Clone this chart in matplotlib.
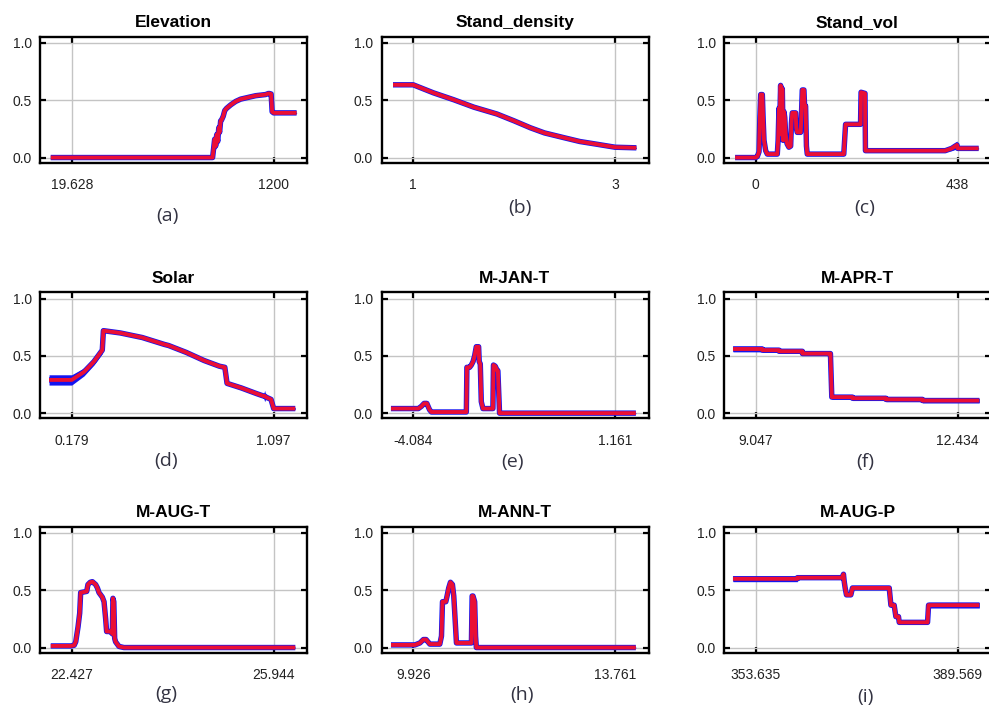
import numpy as np
import matplotlib
matplotlib.use("Agg")
import matplotlib.pyplot as plt

# response curves: x, mean response, sd (blue band)
titles = ["Elevation", "Stand_density", "Stand_vol", "Solar", "M-JAN-T",
          "M-APR-T", "M-AUG-T", "M-ANN-T", "M-AUG-P"]
labels = ["(a)", "(b)", "(c)", "(d)", "(e)", "(f)", "(g)", "(h)", "(i)"]
tick_vals = [(19.628, 1200), (1, 3), (0, 438), (0.179, 1.097), (-4.084, 1.161),
             (9.047, 12.434), (22.427, 25.944), (9.926, 13.761), (353.635, 389.569)]
tick_text = [("19.628", "1200"), ("1", "3"), ("0", "438"), ("0.179", "1.097"),
             ("-4.084", "1.161"), ("9.047", "12.434"), ("22.427", "25.944"),
             ("9.926", "13.761"), ("353.635", "389.569")]

elev_x = [-103, 843, 849, 855, 861, 867, 873, 879, 884, 890, 896, 905, 914, 925, 949,
          978, 1007, 1036, 1065, 1095, 1124, 1153, 1171, 1185, 1191, 1200, 1334]
elev_y = [0, 0, 0.08, 0.16, 0.10, 0.20, 0.14, 0.26, 0.22, 0.32, 0.33, 0.36, 0.41, 0.43,
          0.46, 0.49, 0.51, 0.52, 0.53, 0.54, 0.545, 0.55, 0.56, 0.555, 0.40, 0.39, 0.39]
elev_sd = [0.005, 0.005, 0.03, 0.04, 0.03, 0.03, 0.03, 0.02, 0.02, 0.01, 0.01, 0.01, 0.01,
           0.01, 0.005, 0.005, 0.005, 0.005, 0.005, 0.005, 0.005, 0.005, 0.005, 0.005,
           0.005, 0.005, 0.005]

dens_x = [0.80, 1.0, 1.1, 1.2, 1.4, 1.6, 1.83, 2.0, 2.16, 2.3, 2.49, 2.65, 2.82, 3.0, 3.21]
dens_y = [0.635, 0.635, 0.60, 0.565, 0.505, 0.44, 0.38, 0.32, 0.26, 0.215, 0.174, 0.14,
          0.116, 0.09, 0.085]
dens_sd = [0.005] * 15

vol_x = [-44.7, 0, 3.6, 7.2, 9, 10.8, 14.4, 16, 18, 21.6, 25.2, 46.8, 48.6, 50.4, 52, 54,
         56, 57.7, 59.5, 61.3, 63, 65, 68, 72, 75.8, 77.5, 79.3, 86.6, 88, 90, 97.4, 99,
         101, 104.6, 106, 108.2, 110, 111.8, 191, 194.9, 227.3, 228.5, 237, 238, 411, 425,
         436.5, 438, 483.5]
vol_y = [0.0, 0.0, 0.01, 0.05, 0.35, 0.55, 0.55, 0.35, 0.15, 0.06, 0.03, 0.03, 0.15, 0.43,
         0.30, 0.63, 0.20, 0.60, 0.15, 0.40, 0.35, 0.20, 0.12, 0.09, 0.10, 0.30, 0.39, 0.39,
         0.26, 0.22, 0.22, 0.35, 0.59, 0.59, 0.45, 0.45, 0.10, 0.03, 0.03, 0.29, 0.29, 0.57,
         0.56, 0.06, 0.06, 0.08, 0.11, 0.08, 0.08]
vol_sd = [0.005] * 44 + [0.005, 0.02, 0.035, 0.01, 0.005]

sol_x = [0.076, 0.179, 0.235, 0.28, 0.318, 0.323, 0.40, 0.50, 0.60, 0.62, 0.70, 0.78, 0.85,
         0.875, 0.885, 0.95, 1.02, 1.05, 1.056, 1.062, 1.085, 1.097, 1.195]
sol_y = [0.29, 0.29, 0.36, 0.45, 0.55, 0.72, 0.70, 0.66, 0.60, 0.59, 0.53, 0.46, 0.41,
         0.40, 0.26, 0.22, 0.17, 0.15, 0.15, 0.14, 0.12, 0.04, 0.04]
sol_sd = [0.045, 0.045, 0.035, 0.03, 0.03, 0.005, 0.005, 0.005, 0.005, 0.005, 0.005,
          0.005, 0.005, 0.005, 0.01, 0.005, 0.005, 0.005, 0.05, 0.01, 0.005, 0.01, 0.01]

jan_x = [-4.662, -3.95, -3.87, -3.80, -3.73, -3.66, -3.61, -2.704, -2.69, -2.62, -2.575,
         -2.53, -2.489, -2.446, -2.385, -2.37, -2.342, -2.316, -2.273, -2.014, -2.00,
         -1.954, -1.90, -1.885, -1.842, 1.698]
jan_y = [0.04, 0.04, 0.06, 0.085, 0.085, 0.03, 0.01, 0.01, 0.40, 0.40, 0.42, 0.45, 0.50,
         0.58, 0.58, 0.45, 0.43, 0.10, 0.04, 0.04, 0.42, 0.41, 0.37, 0.37, 0.0, 0.0]
jan_sd = [0.005] * 26

apr_x = [8.666, 9.158, 9.158, 9.438, 9.438, 9.83, 9.83, 10.278, 10.30, 10.323, 10.669,
         10.669, 11.23, 11.23, 11.844, 11.844, 12.797]
apr_y = [0.56, 0.56, 0.55, 0.55, 0.54, 0.54, 0.52, 0.52, 0.52, 0.14, 0.14, 0.13, 0.13,
         0.12, 0.12, 0.11, 0.11]
apr_sd = [0.025, 0.025, 0.02, 0.02, 0.015, 0.015, 0.015, 0.015, 0.015, 0.02, 0.02, 0.02,
          0.02, 0.02, 0.02, 0.02, 0.02]

aug_x = [22.062, 22.41, 22.47, 22.497, 22.537, 22.566, 22.583, 22.688, 22.71, 22.75,
         22.787, 22.844, 22.875, 22.902, 22.96, 22.99, 23.018, 23.035, 23.105, 23.134,
         23.145, 23.16, 23.175, 23.191, 23.25, 23.336, 26.32]
aug_y = [0.014, 0.014, 0.02, 0.05, 0.18, 0.30, 0.48, 0.49, 0.55, 0.57, 0.575, 0.55, 0.52,
         0.48, 0.44, 0.40, 0.25, 0.14, 0.14, 0.12, 0.43, 0.40, 0.08, 0.05, 0.01, 0.0, 0.0]
aug_sd = [0.005] * 27

ann_x = [9.504, 9.958, 10.053, 10.12, 10.17, 10.242, 10.431, 10.463, 10.482, 10.545,
         10.569, 10.60, 10.633, 10.671, 10.696, 10.715, 10.747, 11.031, 11.045, 11.061,
         11.093, 11.11, 11.125, 14.153]
ann_y = [0.023, 0.023, 0.04, 0.07, 0.07, 0.03, 0.03, 0.10, 0.40, 0.40, 0.45, 0.52, 0.57,
         0.55, 0.45, 0.30, 0.04, 0.04, 0.45, 0.45, 0.40, 0.10, 0.0, 0.0]
ann_sd = [0.005] * 24

augp_x = [349.59, 361.05, 361.05, 369.06, 369.25, 369.37, 369.55, 369.78, 370.56, 370.85,
          377.39, 377.69, 378.27, 378.57, 379.04, 379.17, 384.21, 384.39, 393.42]
augp_y = [0.60, 0.60, 0.61, 0.61, 0.64, 0.58, 0.52, 0.46, 0.46, 0.52, 0.52, 0.37, 0.37,
          0.27, 0.27, 0.22, 0.22, 0.37, 0.37]
augp_sd = [0.025, 0.025, 0.015, 0.015, 0.01, 0.01, 0.01, 0.01, 0.01, 0.01, 0.01, 0.015,
           0.015, 0.01, 0.01, 0.01, 0.01, 0.025, 0.025]

curves = [(elev_x, elev_y, elev_sd), (dens_x, dens_y, dens_sd), (vol_x, vol_y, vol_sd),
          (sol_x, sol_y, sol_sd), (jan_x, jan_y, jan_sd), (apr_x, apr_y, apr_sd),
          (aug_x, aug_y, aug_sd), (ann_x, ann_y, ann_sd), (augp_x, augp_y, augp_sd)]

W, H = 989, 710
fig = plt.figure(figsize=(W / 100, H / 100), dpi=100)
plt.rcParams['font.family'] = ['Liberation Sans', 'DejaVu Sans']

col_left = [40, 381.5, 724]
row_top = [36.7, 292.3, 526.7]
ax_w, ax_h = 267, 126
label_pos = [(167, 216), (520, 208), (865, 208), (166, 461), (512, 462), (865, 462),
             (166, 694), (522, 695), (865, 697)]

for i in range(9):
    r, c = divmod(i, 3)
    x0 = col_left[c]
    y0 = row_top[r]
    ax = fig.add_axes([x0 / W, 1 - (y0 + ax_h) / H, ax_w / W, ax_h / H])
    x, y, sd = [np.array(v, dtype=float) for v in curves[i]]
    ax.fill_between(x, y - sd, y + sd, color="#1414f0", lw=0, zorder=2)
    ax.plot(x, y, color="#1414f0", lw=3.9, zorder=3, solid_capstyle="butt")
    ax.plot(x, y, color="#ea0f35", lw=2.8, zorder=4, solid_capstyle="butt")

    t0, t1 = tick_vals[i]
    span = t1 - t0
    ax.set_xlim(t0 - 0.157 * span, t1 + 0.165 * span)
    ax.set_ylim(-0.045, 1.055)
    ax.set_xticks([t0, t1])
    ax.set_xticklabels(tick_text[i])
    ax.set_yticks([0, 0.5, 1.0])
    ax.set_yticklabels(["0.0", "0.5", "1.0"])
    ax.grid(True, color="#c4c4c4", lw=1.0, zorder=1)
    ax.tick_params(direction="in", length=4, width=1.6, top=True, right=True,
                   labelsize=10, colors="black", labelcolor="#222222")
    ax.tick_params(axis="x", pad=11)
    ax.tick_params(axis="y", pad=6)
    for s in ax.spines.values():
        s.set_linewidth(1.7)
    ax.set_title(titles[i], fontsize=12.5, fontweight="bold", pad=7)

    lx, ly = label_pos[i]
    fig.text(lx / W, 1 - ly / H, labels[i], ha="center", va="center",
             fontsize=14, color="#333342", family=["Open Sans", "DejaVu Sans"])

fig.savefig("out.png", dpi=100)
